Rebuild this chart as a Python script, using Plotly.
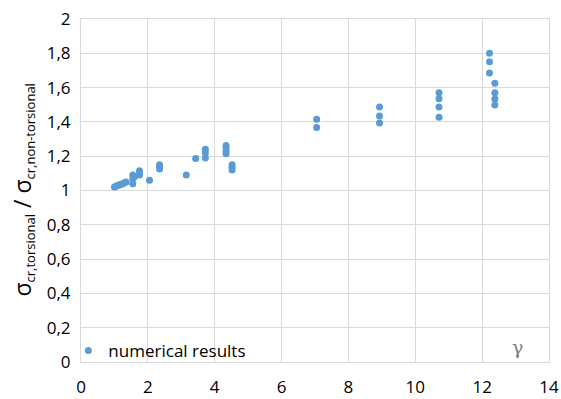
import plotly.graph_objects as go

gamma = [1.0, 1.05, 1.1, 1.15, 1.2, 1.25, 1.3, 1.35,
         1.55, 1.55, 1.55, 1.6,
         1.75, 1.75, 1.75,
         2.05,
         2.35, 2.35, 2.35,
         3.15, 3.43,
         3.72, 3.72, 3.72,
         4.34, 4.34, 4.34, 4.34,
         4.52, 4.52, 4.52,
         7.05, 7.05,
         8.93, 8.93, 8.93,
         10.71, 10.71, 10.71, 10.71,
         12.22, 12.22, 12.22,
         12.38, 12.38, 12.38, 12.38]
ratio = [1.02, 1.025, 1.03, 1.032, 1.036, 1.04, 1.045, 1.05,
         1.04, 1.07, 1.09, 1.08,
         1.09, 1.10, 1.115,
         1.06,
         1.125, 1.14, 1.15,
         1.09, 1.186,
         1.19, 1.22, 1.24,
         1.215, 1.23, 1.25, 1.262,
         1.12, 1.135, 1.15,
         1.368, 1.415,
         1.394, 1.434, 1.487,
         1.427, 1.487, 1.535, 1.570,
         1.685, 1.751, 1.80,
         1.499, 1.533, 1.570, 1.625]

x_ticks = [0, 2, 4, 6, 8, 10, 12, 14]
y_ticks = [0, 0.2, 0.4, 0.6, 0.8, 1.0, 1.2, 1.4, 1.6, 1.8, 2.0]
y_tick_labels = ["0", "0,2", "0,4", "0,6", "0,8", "1", "1,2", "1,4", "1,6", "1,8", "2"]

blue = "#5B9BD5"
font_family = "Open Sans, Liberation Sans, sans-serif"

fig = go.Figure()
fig.add_trace(go.Scatter(
    x=gamma, y=ratio, mode="markers", name="numerical results",
    marker=dict(color=blue, size=7, line=dict(width=0)),
))

fig.add_annotation(x=13.05, y=0.085, text="γ", showarrow=False,
                   font=dict(family="DejaVu Serif, serif", size=19, color="#7f7f7f"))

sub_style = "font-size:13px"
y_title = ("σ<sub><span style='%s'>cr,torsional</span></sub> / "
           "σ<sub><span style='%s'>cr,non-torsional</span></sub>") % (sub_style, sub_style)
fig.add_annotation(xref="paper", yref="paper", x=0, y=0.5, xshift=-59,
                   xanchor="center", yanchor="middle", textangle=-90,
                   text=y_title, showarrow=False,
                   font=dict(family=font_family, size=23, color="#000000"))

fig.update_layout(
    width=561, height=399,
    margin=dict(l=81, r=12, t=19, b=37),
    plot_bgcolor="white", paper_bgcolor="white",
    font=dict(family=font_family, size=15, color="#000000"),
    showlegend=True,
    legend=dict(x=-0.027, y=-0.02, xanchor="left", yanchor="bottom",
                bgcolor="rgba(255,255,255,0)", itemsizing="trace",
                font=dict(size=17), borderwidth=0),
    xaxis=dict(range=[0, 14], tickvals=x_ticks, showgrid=True, gridcolor="#d9d9d9",
               gridwidth=1, zeroline=False, showline=True, linecolor="#d9d9d9",
               ticks="", mirror=True, tickfont=dict(size=17), ticklabelstandoff=10,
               automargin=False),
    yaxis=dict(range=[0, 2], tickvals=y_ticks, ticktext=y_tick_labels, showgrid=True,
               gridcolor="#d9d9d9", gridwidth=1, zeroline=False, showline=True,
               linecolor="#d9d9d9", ticks="", mirror=True, tickfont=dict(size=17),
               ticklabelstandoff=6, automargin=False),
)

fig.write_html("out.html")
